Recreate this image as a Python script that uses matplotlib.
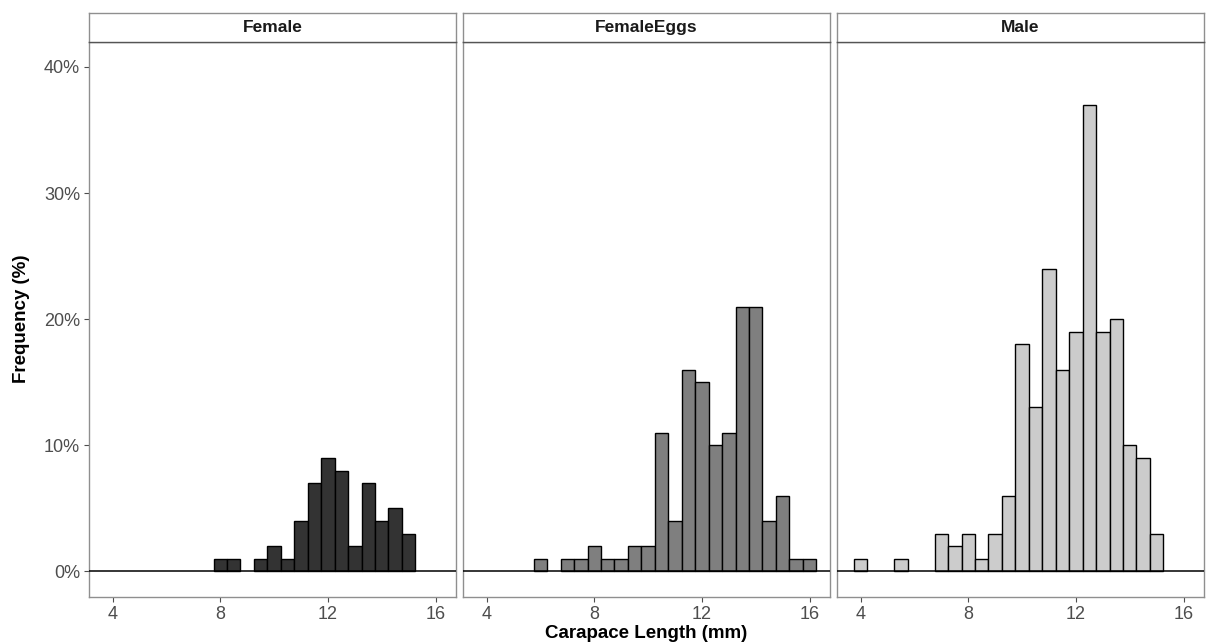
import matplotlib
matplotlib.use("Agg")
import matplotlib.pyplot as plt
import numpy as np
from matplotlib.patches import Rectangle

plt.rcParams['font.family'] = ['Liberation Sans', 'DejaVu Sans']

# ---- data ----
bin_centers = [4.0, 4.5, 5.0, 5.5, 6.0, 6.5, 7.0, 7.5, 8.0, 8.5, 9.0, 9.5, 10.0,
               10.5, 11.0, 11.5, 12.0, 12.5, 13.0, 13.5, 14.0, 14.5, 15.0, 15.5, 16.0]
bin_width = 0.5
panels = ["Female", "FemaleEggs", "Male"]
female = [0, 0, 0, 0, 0, 0, 0, 0, 1, 1, 0, 1, 2, 1, 4, 7, 9, 8, 2, 7, 4, 5, 3, 0, 0]
female_eggs = [0, 0, 0, 0, 1, 0, 1, 1, 2, 1, 1, 2, 2, 11, 4, 16, 15, 10, 11, 21, 21, 4, 6, 1, 1]
male = [1, 0, 0, 1, 0, 0, 3, 2, 3, 1, 3, 6, 18, 13, 24, 16, 19, 37, 19, 20, 10, 9, 3, 0, 0]
x_ticks = [4, 8, 12, 16]
y_ticks = [0, 10, 20, 30, 40]
y_tick_labels = ["0%", "10%", "20%", "30%", "40%"]
fill_colors = ["#333333", "#7f7f7f", "#cccccc"]
series = [female, female_eggs, male]

W, H = 1209, 642
fig = plt.figure(figsize=(W / 100, H / 100), dpi=100)

lefts = [89, 463, 837]
pw = 367
top_px, bot_px = 41.7, 596.7
strip_top = 13.3
border_col = "#8f8f8f"
tick_col = "#4d4d4d"

axes = []
for i, (name, vals, col) in enumerate(zip(panels, series, fill_colors)):
    l = lefts[i]
    ax = fig.add_axes([l / W, 1 - bot_px / H, pw / W, (bot_px - top_px) / H])
    xs = [c for c, v in zip(bin_centers, vals) if v > 0]
    hs = [v for v in vals if v > 0]
    ax.bar(xs, hs, width=bin_width, color=col, edgecolor="black", linewidth=1.0, zorder=2)
    ax.axhline(0, color="black", linewidth=1.1, zorder=3)
    ax.set_xlim(3.12, 16.76)
    ax.set_ylim(-2, 42)
    ax.set_xticks(x_ticks)
    ax.set_xticklabels([str(t) for t in x_ticks])
    ax.set_yticks(y_ticks)
    if i == 0:
        ax.set_yticklabels(y_tick_labels)
    else:
        ax.tick_params(axis="y", left=False, labelleft=False)
    ax.tick_params(axis="both", colors=tick_col, labelcolor=tick_col, labelsize=13,
                   length=3.5, width=0.8, pad=3)
    for s in ax.spines.values():
        s.set_color(border_col)
        s.set_linewidth(1.0)
    ax.grid(False)
    # strip
    sax = fig.add_axes([l / W, 1 - top_px / H, pw / W, (top_px - strip_top) / H])
    sax.set_xticks([])
    sax.set_yticks([])
    for s in sax.spines.values():
        s.set_color(border_col)
        s.set_linewidth(1.0)
    sax.spines["bottom"].set_color("#555555")
    sax.text(0.5, 0.5, name, ha="center", va="center", fontsize=12.5,
             fontweight="bold", color="#1a1a1a", transform=sax.transAxes)
    axes.append(ax)

fig.text((89 + 1204) / 2 / W, 1 - 633 / H, "Carapace Length (mm)", ha="center", va="center",
         fontsize=13.5, fontweight="bold", color="black")
fig.text(22 / W, 1 - 319 / H, "Frequency (%)", ha="center", va="center", rotation=90,
         fontsize=13.5, fontweight="bold", color="black")

fig.savefig("out.png", dpi=100)
